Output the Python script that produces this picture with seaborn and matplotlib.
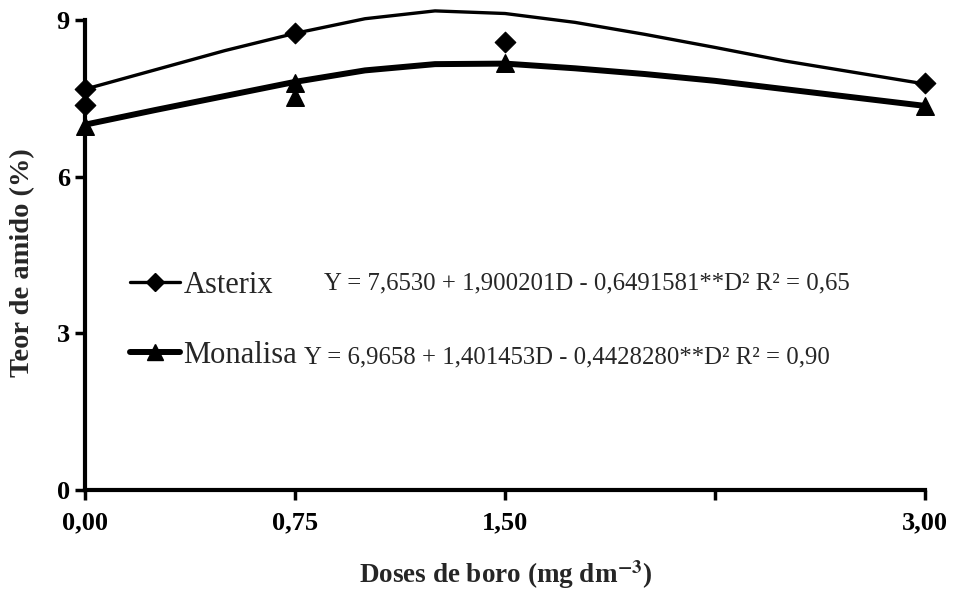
import matplotlib
matplotlib.use("Agg")
import matplotlib.pyplot as plt
import seaborn as sns
import pandas as pd
from matplotlib.lines import Line2D

sns.set_theme(style="ticks")
plt.rcParams['font.family'] = ['Liberation Serif', 'DejaVu Serif']
plt.rcParams['mathtext.fontset'] = 'stix'

# fitted curves
curve_x = [0.0, 0.25, 0.5, 0.75, 1.0, 1.25, 1.5, 1.75, 2.0, 2.25, 2.5, 2.75, 3.0]
asterix_curve = [7.68, 8.05, 8.42, 8.75, 9.03, 9.18, 9.13, 8.96, 8.73, 8.48, 8.22, 8.0, 7.78]
monalisa_curve = [7.0, 7.28, 7.55, 7.82, 8.04, 8.16, 8.17, 8.08, 7.97, 7.84, 7.68, 7.52, 7.36]

# observed points
asterix_x = [0.0, 0.0, 0.75, 1.5, 3.0]
asterix_y = [7.68, 7.37, 8.75, 8.58, 7.8]
monalisa_x = [0.0, 0.75, 0.75, 1.5, 3.0]
monalisa_y = [6.97, 7.8, 7.53, 8.18, 7.36]

x_ticks = [0, 0.75, 1.5, 2.25, 3.0]
x_ticklabels = ["0,00", "0,75", "1,50", "", "3,00"]
y_ticks = [0, 3, 6, 9]
y_ticklabels = ["0", "3", "6", "9"]

series_names = ["Asterix", "Monalisa"]
eq_asterix = "Y = 7,6530 + 1,900201D - 0,6491581**D² R² = 0,65"
eq_monalisa = "Y = 6,9658 + 1,401453D - 0,4428280**D² R² = 0,90"

fig = plt.figure(figsize=(9.62, 5.94), dpi=100)
ax = fig.add_axes([0.0884, 0.175, 0.9615 - 0.0884, 0.9966 - 0.175])

df_a = pd.DataFrame({"x": curve_x, "y": asterix_curve})
df_m = pd.DataFrame({"x": curve_x, "y": monalisa_curve})
sns.lineplot(data=df_a, x="x", y="y", ax=ax, color="black", lw=2.4, sort=True)
sns.lineplot(data=df_m, x="x", y="y", ax=ax, color="black", lw=4.3, sort=True)

sns.scatterplot(x=asterix_x, y=asterix_y, ax=ax, marker="D", s=110, color="black",
                edgecolor="black", zorder=5)
sns.scatterplot(x=monalisa_x, y=monalisa_y, ax=ax, marker="^", s=160, color="black",
                edgecolor="black", zorder=5)
for c in ax.collections:
    c.set_clip_on(False)
for l in ax.lines:
    l.set_clip_on(False)

ax.set_xlim(0, 3.0)
ax.set_ylim(0, 9.35)
ax.spines['left'].set_bounds(0, 9)
ax.spines['top'].set_visible(False)
ax.spines['right'].set_visible(False)
for s in ['left', 'bottom']:
    ax.spines[s].set_linewidth(3)
    ax.spines[s].set_color("black")

ax.set_xticks(x_ticks)
ax.set_xticklabels(x_ticklabels)
ax.set_yticks(y_ticks)
ax.set_yticklabels(y_ticklabels)
ax.tick_params(axis='both', direction='out', length=7, width=2.5, colors='black',
               labelsize=19)
ax.tick_params(axis='x', pad=8)
ax.tick_params(axis='y', pad=4)
for t in ax.get_xticklabels() + ax.get_yticklabels():
    t.set_fontweight('bold')

ax.set_xlabel("Doses de boro (mg dm$^{\\mathbf{-3}}$)", fontsize=19.5, fontweight='bold')
ax.set_ylabel("Teor de amido (%)", fontsize=20.5, fontweight='bold')
ax.xaxis.set_label_coords(0.5, -0.14)
ax.yaxis.set_label_coords(-0.06, 0.465)

handles = [Line2D([0], [0], color='black', lw=2.4, marker='D', markersize=9),
           Line2D([0], [0], color='black', lw=4.3, marker='^', markersize=12)]
leg = ax.legend(handles, series_names, loc='center left',
                bbox_to_anchor=(0.0536, 0.348), frameon=False, fontsize=22,
                handlelength=1.65, handletextpad=0.1, labelspacing=1.35,
                numpoints=1, borderpad=0, borderaxespad=0)

ax.text(0.284, 0.424, eq_asterix, transform=ax.transAxes, fontsize=17.8, va='center')
ax.text(0.261, 0.2725, eq_monalisa, transform=ax.transAxes, fontsize=17.8, va='center')

fig.savefig("out.png", dpi=100, facecolor='white')
